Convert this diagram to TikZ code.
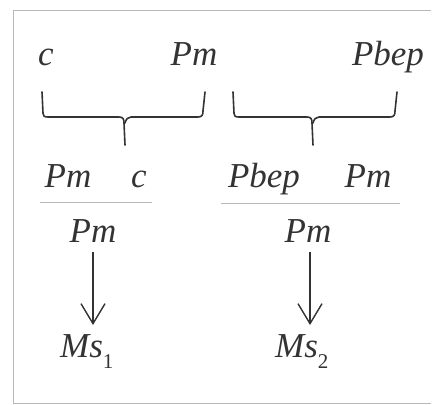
\documentclass[tikz,border=0pt]{standalone}
\usepackage{fontspec}
\setmainfont{Liberation Serif}
\newfontfamily\termfont{Liberation Serif}
\usetikzlibrary{arrows.meta}
\definecolor{ink}{HTML}{333333}
\definecolor{frame}{HTML}{B8B8B8}
\newcommand{\idx}[1]{\raisebox{-11pt}{\fontsize{21}{24}\termfont\upshape #1}}
\tikzset{
  term/.style={anchor=base,inner sep=0pt,text=ink,font=\fontsize{35}{40}\termfont\itshape},
  brace/.style={ink,line width=1.6pt,line cap=round,line join=round},
  rule/.style={frame,line width=0.8pt},
  arr/.style={ink,line width=1.4pt,-{Straight Barb[length=20pt,width=24pt,line width=1.4pt]}}
}
\begin{document}
\begin{tikzpicture}[x=1pt,y=-1pt]
        \useasboundingbox (0,0) rectangle (432,405);
        \draw [frame,line width=1pt] (431,10) -- (13,10) -- (13,403) -- (431,403);
        % top row
        \node [term] (c0) at (46,65) {c};
        \node [term] (pm0) at (194,65) {Pm};
        \node [term] (pb0) at (388,65) {Pbep};
        % braces
        \draw [brace] (42,92) -- (43,113) .. controls (43,116) and (44,117) .. (48,117) -- (119,117)
              .. controls (123,117) and (124,119) .. (124,123) -- (125,145);
        \draw [brace] (125,123) .. controls (126,119) and (128,117) .. (131,117) -- (198,117)
              .. controls (202,117) and (203,115) .. (203,111) -- (205,92);
        \draw [brace] (233,92) -- (234,113) .. controls (234,116) and (235,117) .. (239,117) -- (307,117)
              .. controls (311,117) and (312,119) .. (312,123) -- (313,145);
        \draw [brace] (313,123) .. controls (314,119) and (316,117) .. (319,117) -- (390,117)
              .. controls (394,117) and (395,115) .. (395,111) -- (397,92);
        % second row
        \node [term] (pm1) at (68,187) {Pm};
        \node [term] (c1) at (139,187) {c};
        \node [term] (pb1) at (264,187) {Pbep};
        \node [term] (pm2) at (368,187) {Pm};
        \draw [rule] (40,202) -- (152,202);
        \draw [rule] (221,203) -- (400,203);
        % results
        \node [term] (pmA) at (93,242) {Pm};
        \node [term] (pmB) at (308,242) {Pm};
        \node [term,anchor=base west] (msA) at (60,357) {Ms\idx{1}};
        \node [term,anchor=base west] (msB) at (275,357) {Ms\idx{2}};
        \draw [arr] (pmA.south) ++(0,10) coordinate (a0) (a0) -- ([yshift=-325pt]a0 |- 0,0);
        \draw [arr] (pmB.south) ++(2,10) coordinate (b0) (b0) -- ([yshift=-325pt]b0 |- 0,0);
    \end{tikzpicture}
\end{document}
